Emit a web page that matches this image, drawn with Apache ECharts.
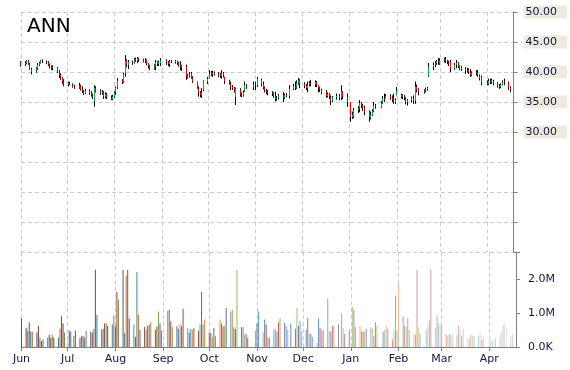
<!DOCTYPE html>
<html><head><meta charset="utf-8">
<script src="https://cdn.jsdelivr.net/npm/echarts@6/dist/echarts.min.js"></script>
<style>html,body{margin:0;padding:0;background:#fff}#c{width:570px;height:370px}</style>
</head><body><div id="c"></div>
<script>
const title = 'ANN';
const startDate = '2012-06-01';
const endDate = '2013-04-16';
const axisMin = '2012-06-01';
const axisMax = '2013-04-18';
const holidays = ['2012-07-04','2012-09-03','2012-10-29','2012-10-30','2012-11-22','2012-12-25','2013-01-01','2013-01-21','2013-02-18','2013-03-29'];
const monthNames = ['Jan','Feb','Mar','Apr','May','Jun','Jul','Aug','Sep','Oct','Nov','Dec'];

// OHLC per trading day (month by month)
const open = [
 41.6,41.3,41.5,41.8,41.3,40.5,40.1,40.6,41.2,41.5,41.9,41.7,41.6,41.2,40.9,40.6,40.7,40.1,39.5,39.0,38.3,
 37.9,38.2,37.9,37.6,37.4,37.7,37.1,36.7,36.5,36.8,36.5,36.2,35.2,37.3,36.9,36.5,36.6,35.9,36.3,35.8,35.5,
 35.9,36.6,37.4,38.6,38.4,39.8,41.9,41.2,41.7,41.6,42.0,41.8,42.3,42.0,41.8,42.0,41.4,41.0,40.6,41.1,41.6,41.3,41.5,
 41.9,41.6,41.3,41.8,41.6,41.8,41.5,41.2,41.0,40.8,39.2,39.4,39.8,39.1,38.3,37.4,36.5,36.1,37.0,
 38.4,38.9,39.6,39.9,39.6,39.9,39.5,39.3,39.8,39.2,38.5,38.2,37.5,37.3,35.8,37.1,36.3,36.1,36.8,37.8,37.5,
 37.9,37.8,38.7,38.0,37.4,36.9,36.7,36.5,36.3,36.0,35.5,35.7,36.1,35.7,36.2,36.0,37.2,37.6,37.4,38.2,38.6,
 38.0,37.7,37.3,37.9,38.2,38.0,38.3,37.8,37.3,37.0,36.7,36.0,36.3,35.9,35.2,35.8,36.0,35.7,36.6,35.8,
 35.0,32.5,32.6,33.6,33.9,34.8,34.5,34.0,33.4,32.4,32.9,33.5,34.4,34.2,34.8,35.6,35.6,36.0,35.8,35.4,35.0,
 36.2,36.3,35.9,36.1,35.6,35.0,35.3,35.6,35.2,37.6,37.0,36.7,36.9,37.1,39.4,40.9,41.2,41.5,41.8,
 41.4,41.9,42.2,41.8,41.6,41.7,40.6,41.2,41.5,41.0,40.5,40.6,40.2,40.4,40.0,39.5,39.8,39.9,39.4,39.1,
 38.2,38.0,38.5,38.3,38.4,38.1,37.7,37.5,37.9,38.3,38.2,37.4
];
const close = [
 41.2,41.5,41.9,41.4,40.6,40.0,40.6,41.2,41.5,41.9,41.8,41.6,41.2,40.9,40.5,40.8,40.1,39.5,39.0,38.3,37.9,
 38.2,38.0,37.6,37.4,37.7,37.1,36.8,36.4,36.9,36.5,36.2,35.9,37.4,36.9,36.5,36.7,35.9,36.3,35.8,35.5,35.9,
 36.6,37.4,38.6,38.3,39.6,41.9,41.2,41.7,41.5,42.0,42.2,42.3,42.0,41.8,42.0,41.4,41.0,40.6,41.1,41.6,41.3,41.7,41.9,
 41.6,41.3,41.8,41.6,41.8,41.5,41.2,41.0,40.6,39.2,39.4,39.6,39.1,38.4,37.4,36.5,36.2,36.6,38.4,
 38.9,39.6,39.9,39.6,39.9,39.5,39.3,39.8,39.4,38.5,38.2,37.5,37.3,36.9,37.2,36.3,36.1,36.6,37.8,37.5,37.9,
 38.1,38.8,38.0,37.4,36.9,36.7,36.5,36.3,36.0,35.5,35.7,36.1,35.7,36.2,36.0,37.2,37.6,37.4,38.2,38.6,38.0,
 37.7,37.3,37.9,38.2,38.0,38.3,37.8,37.3,37.0,36.6,36.0,36.3,35.9,35.2,35.8,36.0,35.7,36.8,35.9,35.0,
 32.5,32.9,33.6,33.9,34.8,34.5,34.0,33.4,32.4,32.9,33.5,34.4,34.2,34.8,35.6,35.4,36.0,35.8,35.4,35.0,35.3,
 36.9,35.9,36.1,35.7,35.0,35.3,35.6,35.2,37.6,37.0,36.7,36.9,37.1,37.3,40.9,41.2,41.5,41.8,41.6,
 41.9,42.1,41.8,41.6,41.4,40.5,41.2,41.5,41.0,40.5,40.7,40.2,40.4,40.0,39.5,39.8,39.9,39.4,39.0,38.2,
 38.0,38.5,38.3,38.6,38.1,37.7,37.5,37.9,38.3,38.1,37.4,37.0
];
const low = [
 40.9,41.0,41.3,41.2,40.4,39.6,39.9,40.3,41.0,41.4,41.5,41.3,41.0,40.6,40.3,40.3,39.8,39.0,38.7,38.0,37.6,
 37.6,37.8,37.4,37.2,37.2,36.9,36.5,36.2,36.3,36.2,35.9,35.5,34.2,36.6,36.2,36.2,35.5,35.6,35.5,35.3,35.3,
 35.7,36.2,37.2,38.0,38.2,39.2,40.8,40.5,41.2,41.4,41.7,41.5,41.7,41.6,41.5,41.1,40.6,40.3,40.4,40.3,41.0,41.0,41.0,
 41.2,41.0,40.8,41.5,41.4,41.2,40.9,40.3,40.2,38.7,38.9,39.1,38.9,38.2,37.2,35.9,35.8,35.7,36.8,
 38.0,38.9,39.3,39.2,39.4,39.2,39.0,38.9,39.1,38.0,37.9,37.0,37.0,36.6,34.5,35.9,35.8,35.9,36.7,37.2,37.0,
 37.0,37.5,37.6,37.1,36.6,36.3,36.1,36.0,35.7,35.1,35.2,35.4,35.0,35.5,35.8,35.6,37.0,37.0,37.2,37.9,37.3,
 37.3,37.0,36.6,37.6,37.6,37.5,37.5,36.6,36.7,36.3,35.7,35.8,35.5,34.5,35.0,35.4,35.3,35.3,35.5,34.2,
 31.7,32.2,32.3,33.2,33.3,34.0,33.5,32.8,31.7,32.1,32.7,33.3,33.9,34.0,34.7,35.0,35.6,35.4,35.0,34.7,34.7,
 36.1,35.6,35.5,35.3,34.6,34.4,34.9,34.7,34.7,36.6,36.1,36.4,36.6,36.9,39.2,40.3,40.8,41.2,41.2,
 41.2,41.6,41.5,41.3,41.0,40.0,40.4,40.6,40.7,40.3,40.2,39.7,39.9,39.7,39.2,39.3,39.4,39.2,38.6,37.8,
 37.8,37.8,38.0,38.0,37.8,37.4,37.2,37.3,37.8,37.8,37.0,36.6
];
const high = [
 41.8,41.8,42.0,42.0,41.5,40.7,40.8,41.5,41.7,42.0,42.1,41.9,41.8,41.4,41.1,41.1,40.8,40.3,39.8,39.2,38.8,
 38.4,38.4,38.1,37.9,38.2,37.9,37.6,37.0,37.2,37.1,36.8,36.4,37.8,37.6,37.1,37.0,36.8,36.6,36.5,36.1,36.2,
 36.8,37.6,39.0,38.8,39.9,42.8,42.1,42.0,41.9,42.3,42.4,42.5,42.4,42.2,42.3,42.1,41.5,41.2,41.3,42.0,41.8,41.9,42.3,
 42.1,41.8,42.0,42.0,42.0,41.9,41.7,41.8,41.2,41.2,39.7,40.0,40.0,39.3,38.4,37.6,36.8,37.3,38.6,
 39.2,40.3,40.2,40.2,40.1,40.0,39.8,40.3,40.0,39.2,38.7,38.4,37.8,37.5,37.4,37.3,36.6,36.9,38.4,38.0,38.4,
 38.4,39.2,38.9,38.4,37.6,37.2,37.0,36.8,36.6,36.7,36.0,36.3,36.7,36.4,36.5,37.8,38.0,38.4,38.6,39.0,38.8,
 38.3,38.0,38.4,38.5,38.7,38.6,38.5,37.8,37.5,37.2,37.0,36.6,36.5,36.1,36.0,36.4,36.3,37.8,36.8,36.4,
 35.0,33.4,34.0,34.3,35.3,35.0,34.7,34.4,33.6,33.4,33.8,35.0,34.7,35.2,36.0,36.4,36.3,36.3,36.1,36.4,35.6,
 37.5,36.4,36.3,36.2,35.8,35.5,35.9,36.1,38.4,37.9,37.3,37.1,37.4,37.5,41.5,41.6,41.8,42.0,42.3,
 42.3,42.4,42.5,42.0,41.9,42.0,41.5,42.0,41.7,41.1,41.0,40.8,40.7,40.6,40.5,40.1,40.3,40.3,39.6,39.4,
 38.6,38.9,38.9,38.9,38.7,38.3,38.0,38.1,38.6,38.9,38.4,37.6
];
// Volume, millions of shares
const volume = [
 0.84,0.56,0.48,0.73,0.46,0.46,0.43,0.63,0.27,0.17,0.22,0.27,0.36,0.27,0.36,0.27,0.27,0.54,0.91,0.69,0.43,
 0.49,0.46,0.33,0.49,0.27,0.32,0.33,0.27,0.48,0.45,0.43,0.54,2.28,0.94,0.51,0.54,0.69,0.71,0.63,0.66,0.93,
 0.61,1.62,1.40,2.28,0.41,2.11,2.28,0.84,0.66,0.30,2.20,0.96,0.51,0.59,0.51,0.63,0.66,0.73,0.51,0.61,1.05,0.69,0.49,
 1.07,1.10,0.76,0.59,0.61,0.53,0.66,0.61,1.13,0.56,0.43,0.54,0.51,0.56,0.49,0.66,1.62,0.66,0.81,
 0.41,0.41,0.30,0.56,0.33,0.81,0.69,0.61,0.63,1.15,1.05,1.10,0.58,0.53,2.28,0.58,0.58,0.36,0.39,0.27,0.49,
 0.69,1.05,0.43,0.81,0.66,0.30,0.27,0.51,0.54,0.46,0.73,0.86,0.71,0.63,0.51,0.69,0.54,1.15,0.63,0.76,0.46,
 0.51,0.86,0.39,0.39,0.30,0.12,0.84,0.56,0.51,0.49,1.43,0.48,0.46,0.63,0.63,0.66,0.99,0.56,0.39,0.51,
 1.18,1.10,0.59,0.63,0.46,0.46,0.46,0.54,0.58,0.54,0.33,0.73,0.63,0.46,0.51,0.63,0.54,0.22,0.49,1.52,0.49,
 1.89,0.91,0.63,0.59,0.84,0.51,0.39,0.36,2.28,0.58,0.39,0.51,0.61,0.79,2.28,0.56,0.94,0.71,0.63,
 0.66,0.36,0.33,0.39,0.36,0.36,0.36,0.63,0.49,0.33,0.54,0.25,0.24,0.36,0.33,0.33,0.33,0.46,0.22,0.30,
 0.30,0.20,0.20,0.22,0.27,0.30,0.46,0.66,0.69,0.56,0.30,0.39
];

function tradingDays() {
  const out = [];
  let t = Date.parse(startDate + 'T00:00:00Z');
  const end = Date.parse(endDate + 'T00:00:00Z');
  while (t <= end) {
    const d = new Date(t);
    const w = d.getUTCDay();
    const s = d.toISOString().slice(0, 10);
    if (w !== 0 && w !== 6 && holidays.indexOf(s) < 0) out.push(s);
    t += 86400000;
  }
  return out;
}
const dates = tradingDays();
[open, close, low, high, volume].forEach(function (a, k) {
  if (a.length !== dates.length) throw new Error('length mismatch ' + k + ': ' + a.length + ' vs ' + dates.length);
});

const palette = ['#4F81BD', '#C0504D', '#9BBB59', '#8064A2', '#4BACC6', '#F79646'];
function shade(hex, s) {
  const n = parseInt(hex.slice(1), 16);
  let r = (n >> 16) & 255, g = (n >> 8) & 255, b = n & 255;
  if (s < 0) { r *= 1 + s; g *= 1 + s; b *= 1 + s; }
  else { r += (255 - r) * s; g += (255 - g) * s; b += (255 - b) * s; }
  return 'rgb(' + Math.round(r) + ',' + Math.round(g) + ',' + Math.round(b) + ')';
}

const font = 'DejaVu Sans';
const textColor = '#14143c';
const upColor = '#00B050';
const downColor = '#FF0000';
const gridLine = { show: true, lineStyle: { color: '#cccccc', type: [4, 3], width: 1 } };
const axisGray = '#808080';

const chart = echarts.init(document.getElementById('c'), null, { renderer: 'canvas' });
chart.setOption({
  animation: false,
  backgroundColor: '#ffffff',
  title: { text: title, left: 22, top: 12, padding: 5,
    textStyle: { fontSize: 20, fontFamily: font, fontWeight: 'normal', color: '#000' } },
  grid: [
    { left: 21, right: 54, top: 12, height: 240 },
    { left: 21, right: 54, top: 252, height: 95 }
  ],
  xAxis: [
    { type: 'time', gridIndex: 0, min: axisMin, max: axisMax, splitNumber: 11,
      minInterval: 28 * 86400000, maxInterval: 31 * 86400000,
      axisLine: { show: false }, axisTick: { show: false }, axisLabel: { show: false },
      splitLine: gridLine },
    { type: 'time', gridIndex: 1, min: axisMin, max: axisMax, splitNumber: 11,
      minInterval: 28 * 86400000, maxInterval: 31 * 86400000,
      axisLine: { show: true, lineStyle: { color: axisGray } },
      axisTick: { show: true, length: 4, lineStyle: { color: axisGray } },
      axisLabel: { show: true, margin: 7, fontSize: 11, fontFamily: font, color: textColor,
        formatter: function (v) { return monthNames[new Date(v).getMonth()]; } },
      splitLine: gridLine }
  ],
  yAxis: [
    { type: 'value', gridIndex: 0, position: 'right', min: 10, max: 50, interval: 5,
      axisLine: { show: true, lineStyle: { color: axisGray } },
      axisTick: { show: true, length: 4, lineStyle: { color: axisGray } },
      splitLine: gridLine,
      axisLabel: { margin: 10, formatter: function (v) { return v >= 30 ? '{b|' + v.toFixed(2) + '}' : ''; },
        rich: { b: { backgroundColor: '#EDEADF', padding: [1, 10, 1, 2], fontSize: 11, fontFamily: font, color: textColor, lineHeight: 12 } } } },
    { type: 'value', gridIndex: 1, position: 'right', min: 0, max: 2.8, interval: 1,
      axisLine: { show: true, lineStyle: { color: axisGray } },
      axisTick: { show: true, length: 4, lineStyle: { color: axisGray } },
      splitLine: { show: false },
      axisLabel: { margin: 12, fontSize: 11, fontFamily: font, color: textColor,
        formatter: function (v) { if (Math.abs(v - Math.round(v)) > 1e-6) return ''; return v === 0 ? '0.0K' : v.toFixed(1) + 'M'; } } }
  ],
  series: [
    // black high-low wicks
    { type: 'candlestick', xAxisIndex: 0, yAxisIndex: 0, barWidth: 1,
      data: dates.map(function (d, i) { return [d, open[i], close[i], low[i], high[i]]; }),
      itemStyle: { color: '#000', color0: '#000', borderColor: '#000', borderColor0: '#000', borderWidth: 1 } },
    // coloured open-close bodies
    { type: 'candlestick', xAxisIndex: 0, yAxisIndex: 0, barWidth: 1,
      data: dates.map(function (d, i) {
        return [d, open[i], close[i], Math.min(open[i], close[i]), Math.max(open[i], close[i])];
      }),
      itemStyle: { color: upColor, color0: downColor, borderColor: upColor, borderColor0: downColor, borderWidth: 1 } },
    { type: 'bar', xAxisIndex: 1, yAxisIndex: 1, barWidth: 1,
      data: dates.map(function (d, i) {
        const t = i / (dates.length - 1);
        return { value: [d, volume[i]], itemStyle: { color: shade(palette[i % 6], -0.3 + Math.pow(t, 1.6)) } };
      }) }
  ]
});
</script>
</body></html>
